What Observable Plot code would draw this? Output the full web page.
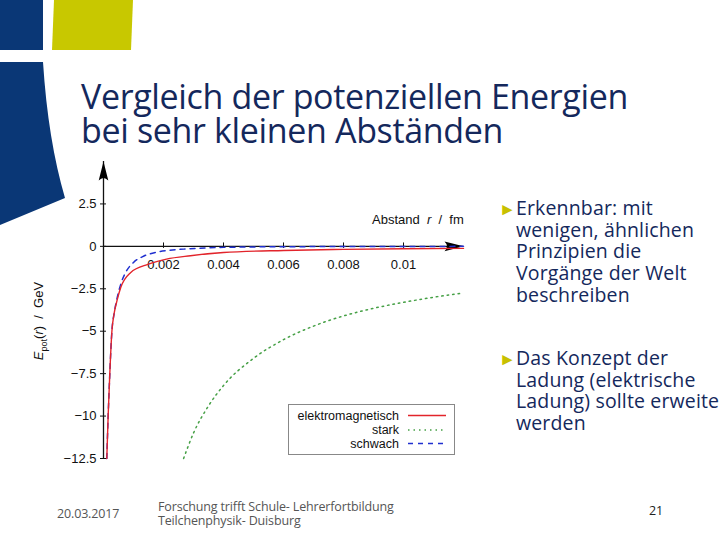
<!DOCTYPE html>
<html>
<head>
<meta charset="utf-8">
<script src="https://cdn.jsdelivr.net/npm/d3@7"></script>
<script src="https://cdn.jsdelivr.net/npm/@observablehq/plot@0.6"></script>
<style>
  html, body { margin: 0; padding: 0; }
  body { width: 720px; height: 540px; position: relative; overflow: hidden; background: #fff; }
  .abs { position: absolute; white-space: nowrap; }
  .title { left: 81px; font-family: "Open Sans", sans-serif; font-size: 34px; line-height: 34px; color: #14285c; letter-spacing: -0.35px; }
  .bul { font-family: "Open Sans", sans-serif; font-size: 19.5px; line-height: 21.7px; color: #14285c; letter-spacing: 0.15px; }
  .bul .m { position: absolute; left: -17px; top: 1px; color: #c8c000; font-size: 17px; letter-spacing: 0; }
  .foot { font-family: "Open Sans", sans-serif; font-size: 12.5px; color: #555; letter-spacing: -0.15px; line-height: 14px; }
  .ax { font-family: "Liberation Sans", sans-serif; font-size: 13px; color: #111; }
  #plot { position: absolute; left: 20px; top: 150px; }
</style>
</head>
<body>
<svg class="abs" style="left:0;top:0;z-index:2" width="140" height="230">
  <rect x="0" y="0" width="43" height="50" fill="#0a3776"/>
  <polygon points="54,0 133,0 131,50 52,50" fill="#c8c800"/>
  <path d="M0,62 L43,62 Q48,140 65,198 L0,225 Z" fill="#0a3776"/>
</svg>

<div class="abs title" style="top:79px;">Vergleich der potenziellen Energien</div>
<div class="abs title" style="top:113px;">bei sehr kleinen Abständen</div>

<div class="abs bul" style="left:516px;top:197px;"><span class="m">►</span>Erkennbar: mit<br>wenigen, ähnlichen<br>Prinzipien die<br>Vorgänge der Welt<br>beschreiben</div>
<div class="abs bul" style="left:516px;top:347px;"><span class="m">►</span>Das Konzept der<br>Ladung (elektrische<br>Ladung) sollte erweitert<br>werden</div>

<div class="abs foot" style="left:57px;top:507px;">20.03.2017</div>
<div class="abs foot" style="left:158px;top:500px;">Forschung trifft Schule- Lehrerfortbildung<br>Teilchenphysik- Duisburg</div>
<div class="abs foot" style="left:649px;top:504px;color:#222;">21</div>

<div id="plot"></div>

<div class="abs ax" style="left:372px;top:212px;">Abstand&nbsp; <i>r</i>&nbsp; /&nbsp; fm</div>
<div class="abs ax" style="left:40px;top:321px;transform:translate(-50%,-50%) rotate(-90deg);"><i>E</i><sub style="font-size:9px">pot</sub>(<i>r</i>)&nbsp; /&nbsp; GeV</div>

<div class="abs" style="left:288px;top:404px;width:165px;height:49px;border:1px solid #888;background:#fff;z-index:3;">
  <svg width="165" height="49" style="display:block">
    <g font-family="Liberation Sans, sans-serif" font-size="12.5" fill="#111" text-anchor="end">
      <text x="110" y="14.5">elektromagnetisch</text>
      <text x="110" y="29">stark</text>
      <text x="110" y="42.5">schwach</text>
    </g>
    <line x1="119" x2="157" y1="10.5" y2="10.5" stroke="#e2242b" stroke-width="1.4"/>
    <line x1="119" x2="157" y1="25" y2="25" stroke="#46a046" stroke-width="1.5" stroke-dasharray="1.5 4"/>
    <line x1="119" x2="157" y1="38.5" y2="38.5" stroke="#2030d0" stroke-width="1.5" stroke-dasharray="5 5"/>
  </svg>
</div>

<script>
// Abstand r / fm and E_pot / GeV
const rEm   = [0.00011, 0.000155, 0.00021, 0.00028, 0.00035, 0.00045, 0.00058, 0.0009, 0.0015, 0.0021, 0.0029, 0.004, 0.006, 0.008, 0.010, 0.012];
const eEm   = [-12.5, -10, -7.5, -5, -4.0, -3.2, -2.4, -1.55, -1.05, -0.75, -0.55, -0.36, -0.24, -0.18, -0.14, -0.12];
const rStark = [0.00267, 0.003, 0.0035, 0.004, 0.005, 0.006, 0.007, 0.008, 0.009, 0.010, 0.011, 0.012];
const eStark = [-12.5, -11, -9.4, -8.2, -6.6, -5.5, -4.7, -4.1, -3.65, -3.3, -3.0, -2.75];
const rWeak = [0.00011, 0.000155, 0.00021, 0.00028, 0.00036, 0.00046, 0.0006, 0.00075, 0.001, 0.00135, 0.00175, 0.0022, 0.0028, 0.004, 0.006, 0.009, 0.012];
const eWeak = [-12.5, -10, -7.5, -5, -3.9, -3.0, -2.1, -1.5, -0.95, -0.57, -0.35, -0.23, -0.15, -0.06, -0.02, -0.01, 0];

const xTicks = [0.002, 0.004, 0.006, 0.008, 0.01];
const xTickLabels = ["0.002", "0.004", "0.006", "0.008", "0.01"];
const yTicks = [2.5, 0, -2.5, -5, -7.5, -10, -12.5];
const yTickLabels = ["2.5", "0", "\u22122.5", "\u22125", "\u22127.5", "\u221210", "\u221212.5"];
const xMax = 0.012, yMin = -12.5, yMax = 5;

const arrowHead = {
  draw(ctx) {
    ctx.moveTo(0, 0);
    ctx.lineTo(4.8, 19);
    ctx.quadraticCurveTo(0, 14, -4.8, 19);
    ctx.closePath();
  }
};

const chart = Plot.plot({
  width: 460,
  height: 320,
  marginLeft: 83,
  marginRight: 17,
  marginTop: 11,
  marginBottom: 12,
  x: { domain: [0, xMax], axis: null },
  y: { domain: [yMin, yMax], axis: null },
  style: { background: "transparent", fontFamily: "Liberation Sans, sans-serif", fontSize: "12.5px", color: "#111" },
  marks: [
    Plot.ruleY([0], { x1: 0, x2: xMax, stroke: "#111", strokeWidth: 1.3 }),
    Plot.ruleX([0], { y1: yMin, y2: yMax, stroke: "#111", strokeWidth: 1.3 }),
    Plot.dot([0], { x: xMax, y: 0, symbol: arrowHead, fill: "#000", stroke: "none", rotate: 90 }),
    Plot.dot([0], { x: 0, y: yMax, symbol: arrowHead, fill: "#000", stroke: "none" }),
    Plot.ruleX(xTicks, { x: d => d, y1: -0.12, y2: 0.2, stroke: "#111" }),
    Plot.ruleY(yTicks, { y: d => d, x1: -0.0001, x2: 0.0001, stroke: "#111" }),
    Plot.text(xTicks, { x: d => d, y: 0, text: (d, i) => xTickLabels[i], dy: 18, fontSize: 13, fill: "#111" }),
    Plot.text(yTicks, { x: 0, y: d => d, text: (d, i) => yTickLabels[i], dx: -7, textAnchor: "end", fontSize: 13, fill: "#111" }),
    Plot.line(eWeak, { x: rWeak, y: eWeak, stroke: "#2030d0", strokeWidth: 1.5, strokeDasharray: "5 5", curve: "monotone-x" }),
    Plot.line(eStark, { x: rStark, y: eStark, stroke: "#46a046", strokeWidth: 1.5, strokeDasharray: "1.5 4", curve: "monotone-x" }),
    Plot.line(eEm, { x: rEm, y: eEm, stroke: "#e2242b", strokeWidth: 1.4, curve: "monotone-x" })
  ]
});
document.getElementById("plot").appendChild(chart);
</script>
</body>
</html>
